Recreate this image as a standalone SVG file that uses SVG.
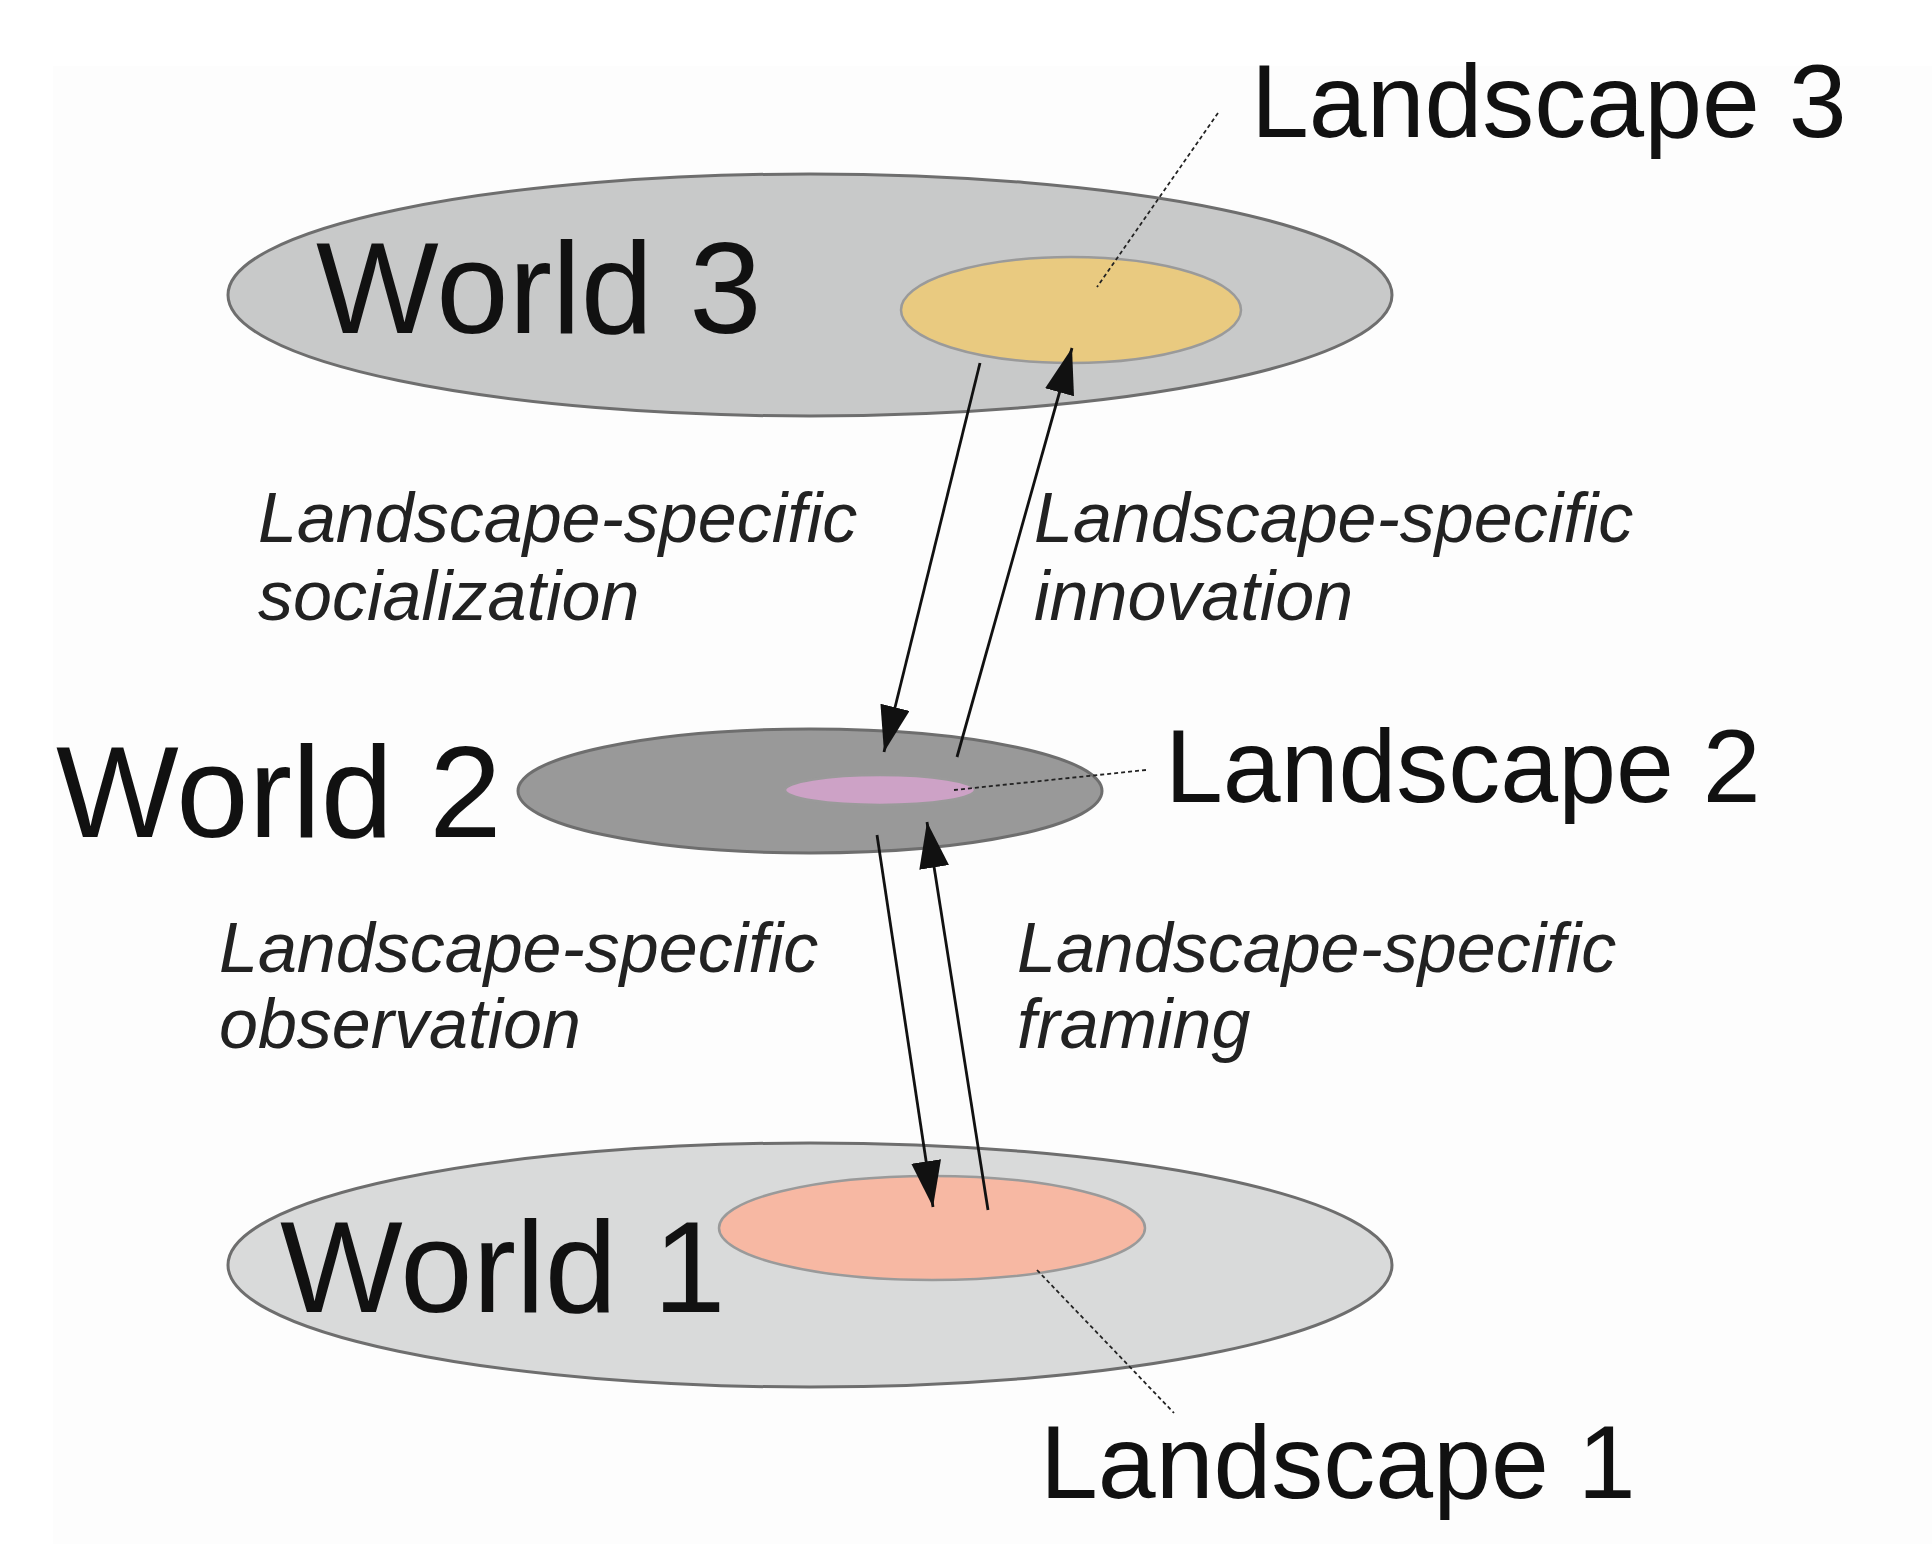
<svg xmlns="http://www.w3.org/2000/svg" width="1932" height="1544" viewBox="0 0 1932 1544">
<style>
.world{stroke:#6e6e6e;stroke-width:3}
.land{stroke:#9a9a9a;stroke-width:2.5}
.big{font-family:"Liberation Sans",Arial,sans-serif;font-size:130px;fill:#111}
.lbl{font-family:"Liberation Sans",Arial,sans-serif;font-size:104px;fill:#111}
.it{font-family:"Liberation Sans",Arial,sans-serif;font-size:70px;font-style:italic;fill:#222}
.arr{stroke:#111;stroke-width:2.8;fill:none;marker-end:url(#ah)}
.lead{stroke:#222;stroke-width:1.8;stroke-dasharray:4 3;fill:none}
</style>
<defs>
<marker id="ah" markerUnits="userSpaceOnUse" markerWidth="48" markerHeight="32" refX="46" refY="15" orient="auto">
<path d="M0,0 L46,15 L0,30 Z" fill="#111"/>
</marker>
</defs>
<rect x="0" y="0" width="1932" height="1544" fill="#ffffff"/>
<rect x="53" y="66" width="1879" height="1478" fill="#fdfdfd"/>

<g id="world3">
<ellipse class="world" cx="810" cy="295" rx="582" ry="121" fill="#c8c9c9"/>
<text class="big" x="316" y="333">World 3</text>
</g>
<g id="landscape3">
<ellipse class="land" cx="1071" cy="310" rx="170" ry="53" fill="#e9ca80"/>
<text class="lbl" x="1251" y="137">Landscape 3</text>
</g>

<g id="world2">
<ellipse class="world" cx="810" cy="791" rx="292" ry="62" fill="#999999"/>
<text class="big" x="56" y="837">World 2</text>
</g>
<g id="landscape2">
<ellipse class="land" cx="880" cy="790" rx="95" ry="15" fill="#cda2c6"/>
<text class="lbl" x="1165" y="802">Landscape 2</text>
</g>

<g id="world1">
<ellipse class="world" cx="810" cy="1265" rx="582" ry="122" fill="#d9dada"/>
<text class="big" x="280" y="1312">World 1</text>
</g>
<g id="landscape1">
<ellipse class="land" cx="932" cy="1228" rx="213" ry="52" fill="#f7b8a3"/>
<text class="lbl" x="1040" y="1498">Landscape 1</text>
</g>

<g id="connectors">
<line class="arr" x1="980" y1="363" x2="884" y2="752"/>
<line class="arr" x1="957" y1="757" x2="1072" y2="348"/>
<line class="arr" x1="877" y1="835" x2="933" y2="1207"/>
<line class="arr" x1="988" y1="1210" x2="927" y2="822"/>
<line class="lead" x1="1218" y1="113" x2="1097" y2="287"/>
<line class="lead" x1="954" y1="790" x2="1146" y2="770"/>
<line class="lead" x1="1037" y1="1270" x2="1174" y2="1413"/>
</g>

<g id="labels">
<text class="it" x="258" y="542">Landscape-specific</text>
<text class="it" x="258" y="620">socialization</text>
<text class="it" x="1034" y="542">Landscape-specific</text>
<text class="it" x="1034" y="620">innovation</text>
<text class="it" x="219" y="972">Landscape-specific</text>
<text class="it" x="219" y="1048">observation</text>
<text class="it" x="1017" y="972">Landscape-specific</text>
<text class="it" x="1017" y="1048">framing</text>
</g>
</svg>
